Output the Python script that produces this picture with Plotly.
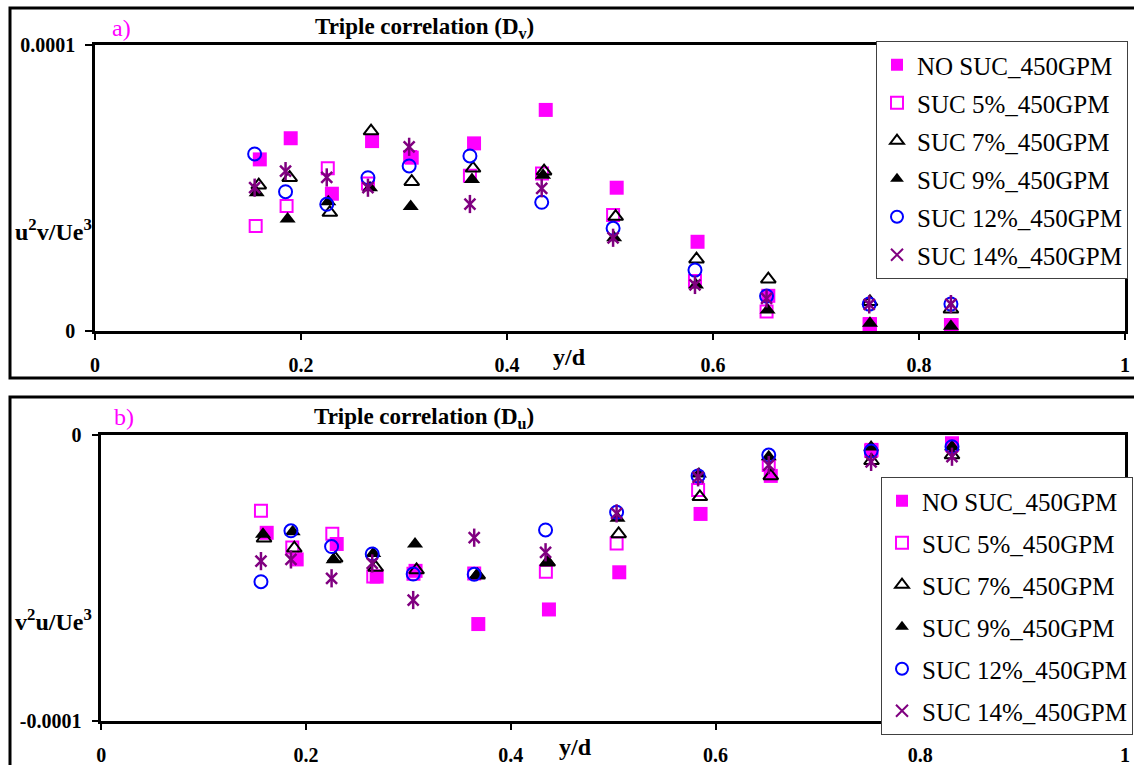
import plotly.graph_objects as go

W, H = 1134, 765
SERIF = "Liberation Serif"

series_names = ["NO SUC_450GPM", "SUC 5%_450GPM", "SUC 7%_450GPM",
                "SUC 9%_450GPM", "SUC 12%_450GPM", "SUC 14%_450GPM"]

# ---- Panel a) Triple correlation D_v : u^2v/Ue^3 against y/d ----
dv_x_nosuc = [0.160, 0.190, 0.230, 0.269, 0.3075, 0.368, 0.4376, 0.5065, 0.585, 0.6537, 0.7524, 0.8317]
dv_y_nosuc = [6.00e-5, 6.74e-5, 4.80e-5, 6.64e-5, 6.06e-5, 6.56e-5, 7.73e-5, 5.01e-5, 3.12e-5, 1.23e-5, 0.24e-5, 0.21e-5]
dv_x_suc5 = [0.156, 0.186, 0.226, 0.265, 0.306, 0.364, 0.434, 0.503, 0.5825, 0.652, 0.752, 0.831]
dv_y_suc5 = [3.67e-5, 4.37e-5, 5.69e-5, 5.16e-5, 6.08e-5, 5.43e-5, 5.51e-5, 4.06e-5, 1.75e-5, 0.68e-5, 0.24e-5, 0.21e-5]
dv_x_suc7 = [0.159, 0.189, 0.228, 0.268, 0.3075, 0.367, 0.436, 0.5055, 0.584, 0.6537, 0.7524, 0.831]
dv_y_suc7 = [5.10e-5, 5.36e-5, 4.14e-5, 6.99e-5, 5.22e-5, 5.69e-5, 5.59e-5, 4.00e-5, 2.51e-5, 1.81e-5, 1.02e-5, 0.76e-5]
dv_x_suc9 = [0.157, 0.187, 0.2265, 0.267, 0.3065, 0.366, 0.435, 0.504, 0.5835, 0.653, 0.7524, 0.831]
dv_y_suc9 = [4.83e-5, 3.92e-5, 4.52e-5, 5.01e-5, 4.35e-5, 5.30e-5, 5.45e-5, 3.26e-5, 1.61e-5, 0.73e-5, 0.27e-5, 0.17e-5]
dv_x_suc12 = [0.155, 0.185, 0.225, 0.265, 0.305, 0.364, 0.4337, 0.503, 0.5825, 0.652, 0.7517, 0.831]
dv_y_suc12 = [6.19e-5, 4.87e-5, 4.43e-5, 5.36e-5, 5.77e-5, 6.12e-5, 4.50e-5, 3.59e-5, 2.13e-5, 1.22e-5, 0.94e-5, 0.94e-5]
dv_x_suc14 = [0.155, 0.185, 0.225, 0.265, 0.305, 0.364, 0.4337, 0.503, 0.5825, 0.652, 0.7517, 0.831]
dv_y_suc14 = [5.01e-5, 5.59e-5, 5.37e-5, 5.01e-5, 6.44e-5, 4.44e-5, 4.99e-5, 3.26e-5, 1.61e-5, 1.14e-5, 0.93e-5, 0.94e-5]

# ---- Panel b) Triple correlation D_u : v^2u/Ue^3 against y/d ----
du_x_nosuc = [0.1616, 0.1909, 0.230, 0.269, 0.307, 0.3683, 0.4373, 0.506, 0.5854, 0.654, 0.7524, 0.831]
du_y_nosuc = [-3.42e-5, -4.35e-5, -3.81e-5, -4.95e-5, -4.75e-5, -6.61e-5, -6.10e-5, -4.80e-5, -2.76e-5, -1.43e-5, -0.52e-5, -0.35e-5]
du_x_suc5 = [0.156, 0.1866, 0.2257, 0.2657, 0.305, 0.3643, 0.4343, 0.5034, 0.583, 0.652, 0.752, 0.831]
du_y_suc5 = [-2.65e-5, -3.93e-5, -3.45e-5, -4.95e-5, -4.85e-5, -4.84e-5, -4.78e-5, -3.79e-5, -1.92e-5, -1.05e-5, -0.55e-5, -0.29e-5]
du_x_suc7 = [0.159, 0.1886, 0.2285, 0.268, 0.308, 0.3677, 0.436, 0.5054, 0.5847, 0.654, 0.7524, 0.831]
du_y_suc7 = [-3.61e-5, -3.96e-5, -4.31e-5, -4.63e-5, -4.72e-5, -4.90e-5, -4.45e-5, -3.46e-5, -2.16e-5, -1.43e-5, -0.90e-5, -0.70e-5]
du_x_suc9 = [0.158, 0.187, 0.227, 0.2657, 0.3065, 0.3667, 0.436, 0.5043, 0.5838, 0.652, 0.752, 0.831]
du_y_suc9 = [-3.47e-5, -3.38e-5, -4.36e-5, -4.14e-5, -3.81e-5, -4.90e-5, -4.43e-5, -2.91e-5, -1.36e-5, -0.76e-5, -0.42e-5, -0.41e-5]
du_x_suc12 = [0.156, 0.1853, 0.225, 0.2647, 0.3047, 0.3643, 0.434, 0.5034, 0.583, 0.652, 0.752, 0.831]
du_y_suc12 = [-5.13e-5, -3.35e-5, -3.90e-5, -4.16e-5, -4.86e-5, -4.87e-5, -3.32e-5, -2.70e-5, -1.43e-5, -0.70e-5, -0.56e-5, -0.41e-5]
du_x_suc14 = [0.156, 0.1853, 0.225, 0.2647, 0.3047, 0.3643, 0.434, 0.5034, 0.583, 0.652, 0.752, 0.831]
du_y_suc14 = [-4.41e-5, -4.35e-5, -5.01e-5, -4.49e-5, -5.77e-5, -3.59e-5, -4.10e-5, -2.74e-5, -1.48e-5, -1.05e-5, -0.94e-5, -0.76e-5]

x_ticks = [0, 0.2, 0.4, 0.6, 0.8, 1]
x_tick_text = ["0", "0.2", "0.4", "0.6", "0.8", "1"]

MAGENTA, BLACK, BLUE, PURPLE = "#FF00FF", "#000000", "#0000FF", "#800080"

styles = [
    dict(symbol="square", size=14, color=MAGENTA, line=dict(width=0, color=MAGENTA)),
    dict(symbol="square-open", size=12, color=MAGENTA, line=dict(width=2, color=MAGENTA)),
    dict(symbol="triangle-up-open", size=13, color=BLACK, line=dict(width=2, color=BLACK)),
    dict(symbol="triangle-up", size=14, color=BLACK, line=dict(width=0, color=BLACK)),
    dict(symbol="circle-open", size=13, color=BLUE, line=dict(width=2, color=BLUE)),
    dict(symbol="x-thin-open", size=11, color=PURPLE, line=dict(width=2.5, color=PURPLE)),
]

panel_a = [(dv_x_nosuc, dv_y_nosuc), (dv_x_suc5, dv_y_suc5), (dv_x_suc7, dv_y_suc7),
           (dv_x_suc9, dv_y_suc9), (dv_x_suc12, dv_y_suc12), (dv_x_suc14, dv_y_suc14)]
panel_b = [(du_x_nosuc, du_y_nosuc), (du_x_suc5, du_y_suc5), (du_x_suc7, du_y_suc7),
           (du_x_suc9, du_y_suc9), (du_x_suc12, du_y_suc12), (du_x_suc14, du_y_suc14)]

fig = go.Figure()


def add_panel(data, xa, ya, legend, tag):
    for i, ((xs, ys), name, st) in enumerate(zip(data, series_names, styles)):
        fig.add_trace(go.Scatter(
            x=xs, y=ys, mode="markers", name=name, marker=st,
            xaxis=xa, yaxis=ya, legend=legend, legendgroup=f"{tag}{i}",
            cliponaxis=False, hoverinfo="x+y+name"))
    # vertical stroke that turns the x into a six-armed star
    xs, ys = data[5]
    fig.add_trace(go.Scatter(
        x=xs, y=ys, mode="markers", showlegend=False,
        marker=dict(symbol="line-ns-open", size=13, color=PURPLE, line=dict(width=2.5, color=PURPLE)),
        xaxis=xa, yaxis=ya, cliponaxis=False, hoverinfo="skip"))


add_panel(panel_a, "x", "y", "legend", "a")
add_panel(panel_b, "x2", "y2", "legend2", "b")


def px(x):
    return x / W


def py(y):
    return 1 - y / H


tick_font = dict(family=SERIF, size=20, color="black", weight="bold")
common_x = dict(range=[0, 1], tickvals=x_ticks, ticktext=x_tick_text, ticks="outside",
                ticklen=6, tickwidth=1.5, tickcolor="black", showline=True, linewidth=2.5,
                linecolor="black", mirror=True, showgrid=False, zeroline=False,
                tickfont=tick_font, ticklabelstandoff=8, automargin=False)
common_y = dict(ticks="outside", ticklen=7, tickwidth=1.5, tickcolor="black",
                showline=True, linewidth=2.5, linecolor="black", mirror=True,
                showgrid=False, zeroline=False, tickfont=tick_font, ticklabelstandoff=6,
                automargin=False)

fig.update_layout(
    template="none",
    width=W, height=H, margin=dict(l=0, r=0, t=0, b=0, autoexpand=False),
    paper_bgcolor="white", plot_bgcolor="white",
    xaxis=dict(domain=[px(95), px(1125)], anchor="y", **common_x),
    yaxis=dict(domain=[py(331), py(45)], anchor="x", range=[0, 1e-4],
               tickvals=[0, 1e-4], ticktext=["0", "0.0001"], **common_y),
    xaxis2=dict(domain=[px(101.25), px(1125)], anchor="y2", **common_x),
    yaxis2=dict(domain=[py(721), py(435)], anchor="x2", range=[-1e-4, 0],
                tickvals=[-1e-4, 0], ticktext=["-0.0001", "0"], **common_y),
    legend=dict(x=px(1128), xanchor="right", y=py(41), yanchor="top",
                bgcolor="white", bordercolor="#404040", borderwidth=1,
                font=dict(family=SERIF, size=25, color="black"),
                tracegroupgap=2.5, itemsizing="constant"),
    legend2=dict(x=px(1133), xanchor="right", y=py(477), yanchor="top",
                 bgcolor="white", bordercolor="#404040", borderwidth=1,
                 font=dict(family=SERIF, size=25, color="black"),
                 tracegroupgap=6.5, itemsizing="constant"),
    showlegend=True,
)

# outer frames around each panel
for y0, y1 in [(8, 378), (397, 790)]:
    fig.add_shape(type="rect", xref="paper", yref="paper",
                  x0=px(10), x1=px(1145), y0=py(y1), y1=py(y0),
                  line=dict(color="black", width=3), layer="below")

label_font = dict(family=SERIF, size=24, color="black")
title_font = dict(family=SERIF, size=23, color="black")
annotations = [
    dict(x=px(121), y=py(28), text="a)", font=dict(family=SERIF, size=24, color=MAGENTA)),
    dict(x=px(124), y=py(417), text="b)", font=dict(family=SERIF, size=24, color=MAGENTA)),
    dict(x=px(424), y=py(28), text="<b>Triple correlation (D<sub>v</sub>)</b>", font=title_font),
    dict(x=px(424), y=py(418), text="<b>Triple correlation (D<sub>u</sub>)</b>", font=title_font),
    dict(x=px(53), y=py(230), text="<b>u<sup>2</sup>v/Ue<sup>3</sup></b>", font=label_font),
    dict(x=px(53), y=py(620), text="<b>v<sup>2</sup>u/Ue<sup>3</sup></b>", font=label_font),
    dict(x=px(569), y=py(357), text="<b>y/d</b>", font=label_font),
    dict(x=px(575), y=py(747), text="<b>y/d</b>", font=label_font),
]
for a in annotations:
    fig.add_annotation(xref="paper", yref="paper", showarrow=False,
                       xanchor="center", yanchor="middle", **a)

fig.write_html("out.html")
